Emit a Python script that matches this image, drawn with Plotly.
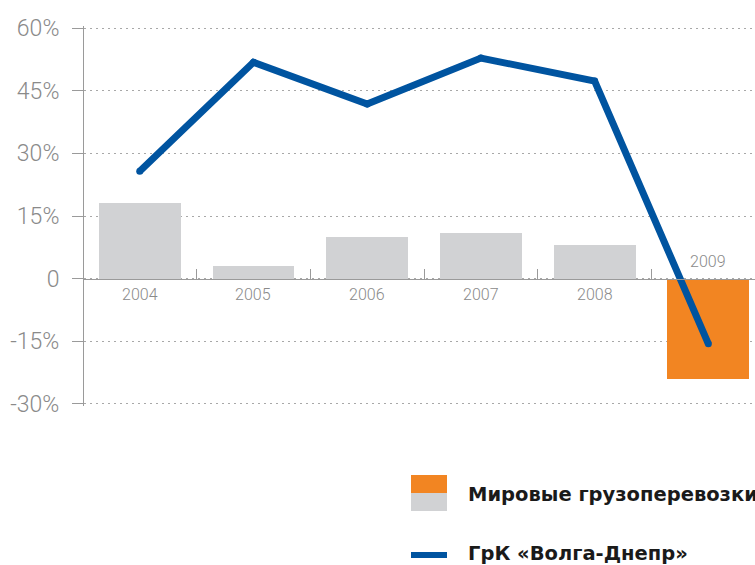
import plotly.graph_objects as go

# ---- data ----
years = ["2004", "2005", "2006", "2007", "2008", "2009"]
world_cargo = [18, 3, 10, 11, 8, -24]          # Мировые грузоперевозки, %
volga_dnepr = [25.7, 51.8, 41.8, 52.8, 47.3, -15.6]  # ГрК «Волга-Днепр», %
y_ticks = [-30, -15, 0, 15, 30, 45, 60]
y_tick_text = ["-30%", "-15%", "0", "15%", "30%", "45%", "60%"]
legend_labels = ["Мировые грузоперевозки", "ГрК «Волга-Днепр»"]

GRAY_BAR = "#D1D2D4"
ORANGE = "#F28522"
BLUE = "#0054A0"
AXIS = "#9a9a9a"
LABEL = "#8a8a8a"

W, H = 755, 565
ML, MR, MT, MB = 84, 0, 26, 159
PW, PH = W - ML - MR, H - MT - MB
Y_RANGE = [-30.48, 60.48]

def px_x(px):
    return (px - ML) / PW

def px_y(py):
    return (H - MB - py) / PH

idx = list(range(len(years)))
bar_colors = [ORANGE if v < 0 else GRAY_BAR for v in world_cargo]

fig = go.Figure()
fig.add_trace(go.Bar(x=idx, y=world_cargo, width=0.72, marker=dict(color=bar_colors, line=dict(width=0)),
                     showlegend=False, hoverinfo="skip"))
fig.add_trace(go.Scatter(x=idx, y=volga_dnepr, mode="lines+markers",
                         line=dict(color=BLUE, width=7),
                         marker=dict(color=BLUE, size=7),
                         showlegend=False, hoverinfo="skip"))

# year labels
for i, (yr, v) in enumerate(zip(years, world_cargo)):
    fig.add_annotation(x=i, y=0, xref="x", yref="y", text=yr, showarrow=False,
                       yanchor="bottom" if v < 0 else "top",
                       yshift=6 if v < 0 else -4,
                       font=dict(family="Roboto", size=16, color=LABEL, weight=300))

# legend drawn manually
fig.add_shape(type="rect", xref="paper", yref="paper", x0=px_x(411), x1=px_x(447),
              y0=px_y(493), y1=px_y(475), fillcolor=ORANGE, line=dict(width=0))
fig.add_shape(type="rect", xref="paper", yref="paper", x0=px_x(411), x1=px_x(447),
              y0=px_y(511), y1=px_y(493), fillcolor=GRAY_BAR, line=dict(width=0))
fig.add_shape(type="line", xref="paper", yref="paper", x0=px_x(411), x1=px_x(447),
              y0=px_y(555), y1=px_y(555), line=dict(color=BLUE, width=6))
fig.add_annotation(xref="paper", yref="paper", x=px_x(466), y=px_y(494), text="<b>%s</b>" % legend_labels[0],
                   showarrow=False, xanchor="left", yanchor="middle",
                   font=dict(family="DejaVu Sans", size=19.5, color="#1a1a1a"))
fig.add_annotation(xref="paper", yref="paper", x=px_x(466), y=px_y(553), text="<b>%s</b>" % legend_labels[1],
                   showarrow=False, xanchor="left", yanchor="middle",
                   font=dict(family="DejaVu Sans", size=19.5, color="#1a1a1a"))

fig.update_layout(
    width=W, height=H, margin=dict(l=ML, r=MR, t=MT, b=MB, autoexpand=False),
    plot_bgcolor="white", paper_bgcolor="white", bargap=0,
    xaxis=dict(range=[-0.49, 5.41], anchor="free", position=(0 - Y_RANGE[0]) / (Y_RANGE[1] - Y_RANGE[0]),
               showline=True, linecolor=AXIS, linewidth=1,
               tickmode="array", tickvals=[0.5, 1.5, 2.5, 3.5, 4.5],
               ticks="inside", ticklen=10, tickcolor=AXIS, tickwidth=1,
               showticklabels=False, showgrid=False, zeroline=False, fixedrange=True),
    yaxis=dict(range=Y_RANGE, tickmode="array", tickvals=y_ticks, ticktext=y_tick_text,
               showline=True, linecolor=AXIS, linewidth=1,
               ticks="outside", ticklen=11, tickcolor=AXIS, tickwidth=1,
               ticklabelstandoff=8,
               showgrid=True, gridcolor="#a8a8a8", gridwidth=1, griddash="2px,4px",
               zeroline=False, fixedrange=True,
               tickfont=dict(family="Roboto", size=23, color=LABEL, weight=300)),
)

fig.write_html("out.html", config={"displayModeBar": False, "staticPlot": True},
               post_script="document.body.style.margin='0';document.body.style.overflow='hidden';")
